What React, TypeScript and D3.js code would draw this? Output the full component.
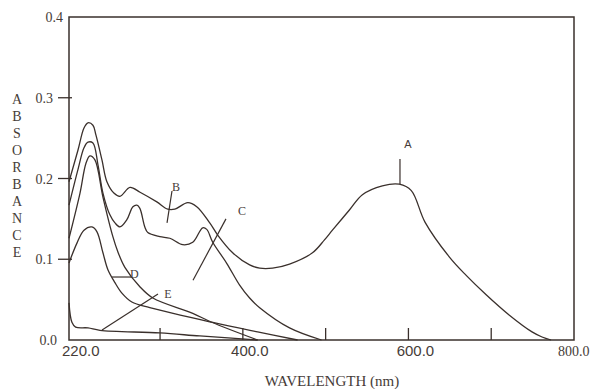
import * as d3 from "d3";

// wavelength (nm) / absorbance pairs
const seriesA: [number, number][] = [
  [190, 0.196], [200.8, 0.235], [208.1, 0.2625], [212.9, 0.269], [218.9, 0.266],
  [222.5, 0.254], [229.8, 0.223], [235.8, 0.196], [244.2, 0.182], [251.5, 0.178],
  [263.7, 0.189], [275.8, 0.183], [296.1, 0.171], [309.3, 0.162], [317.8, 0.162],
  [333.5, 0.17], [344.3, 0.165], [360, 0.145], [369.6, 0.13], [387.7, 0.108],
  [408.2, 0.093], [420.3, 0.089], [435.9, 0.089], [456.4, 0.094], [484.1, 0.108],
  [498.6, 0.124], [508.2, 0.136], [528.7, 0.161], [544.4, 0.18], [568.5, 0.191],
  [589, 0.193], [603.5, 0.185], [620, 0.146], [649.3, 0.103],
  [669.8, 0.08], [693.9, 0.056], [721.6, 0.031], [749.3, 0.01], [761.4, 0.0037],
  [772.3, 0],
];
const seriesB: [number, number][] = [
  [190, 0.167], [200.8, 0.211], [208.1, 0.238], [212.9, 0.245], [218.9, 0.244],
  [225, 0.217], [231, 0.182], [239.4, 0.155], [245.5, 0.145], [251.5, 0.14],
  [259.9, 0.149], [267.2, 0.165], [272, 0.167], [275.6, 0.163], [281.6, 0.14],
  [285.2, 0.133], [299.7, 0.128], [311.8, 0.126], [327.4, 0.118], [339.5, 0.121],
  [351.5, 0.139], [356.4, 0.137], [363.6, 0.121], [380.5, 0.095], [396.1, 0.068],
  [408.2, 0.052], [420.3, 0.04], [456.4, 0.015], [495, 0],
];
const seriesC: [number, number][] = [
  [190, 0.126], [203.3, 0.182], [210.5, 0.219], [215.3, 0.228], [221.3, 0.223],
  [231, 0.177], [243, 0.128], [249.1, 0.109], [257.5, 0.09], [275.6, 0.066],
  [291.3, 0.052], [339.5, 0.033], [362.4, 0.022], [417.8, 0],
];
const seriesD: [number, number][] = [
  [190, 0.0954], [199.6, 0.12], [208.1, 0.136], [217.7, 0.14], [223.8, 0.134],
  [231, 0.108], [237, 0.087], [245.5, 0.071], [253.9, 0.058], [265.9, 0.047],
  [287.6, 0.04], [362.4, 0.022], [417.8, 0.01], [466.1, 0],
];
const seriesE: [number, number][] = [
  [190, 0.046], [193.5, 0.022], [198, 0.016], [213, 0.015], [227.4, 0.012],
  [299.7, 0.0087], [347.9, 0.005], [417.8, 0],
];

const waveTicks = [300, 400, 500, 600, 700];
const waveLabelValues = [190, 400, 600, 800];
const waveLabelTexts = ["220.0", "400.0", "600.0", "800.0"];
const absTicks = [0.1, 0.2, 0.3];
const absLabelValues = [0, 0.1, 0.2, 0.3, 0.4];
const yTitle = "ABSORBANCE".split("");

// leader lines: label, start, end, text anchor point
const leaderLabels = ["A", "B", "C", "D", "E"];
const leaderFrom: [number, number][] = [[589.8, 0.224], [314.4, 0.1845], [379.6, 0.15], [241.9, 0.078], [229.9, 0.0124]];
const leaderTo: [number, number][] = [[589.8, 0.193], [308.4, 0.145], [339.8, 0.074], [264.9, 0.078], [297.5, 0.057]];
const leaderText: [number, number][] = [[599.5, 0.238], [319.2, 0.1845], [399, 0.155], [263.7, 0.077], [309.6, 0.052]];

const W = 594;
const H = 389;
const INK = "#3a302c";
const TEXT = "#463c38";
const SERIF = "'Liberation Serif', 'Times New Roman', serif";
const SANS = "'Liberation Sans', Arial, sans-serif";

export default function App() {
  const x = d3.scaleLinear().domain([190, 800]).range([69, 574]);
  const y = d3.scaleLinear().domain([0, 0.4]).range([340, 17]);

  const line = d3
    .line<[number, number]>()
    .x((d) => x(d[0]))
    .y((d) => y(d[1]))
    .curve(d3.curveCatmullRom.alpha(0.5));

  const curves = [seriesA, seriesB, seriesC, seriesD, seriesE];

  return (
    <div style={{ position: "absolute", left: 0, top: 0 }}>
      <svg width={W} height={H} style={{ display: "block", background: "#fff" }}>
        {/* frame */}
        <rect
          x={x(190)}
          y={y(0.4)}
          width={x(800) - x(190)}
          height={y(0) - y(0.4)}
          fill="none"
          stroke={INK}
          strokeWidth={1.5}
        />

        {/* y ticks */}
        {absTicks.map((t) => (
          <line key={t} x1={x(190) - 11} x2={x(190) + 3} y1={y(t)} y2={y(t)} stroke={INK} strokeWidth={1.3} />
        ))}
        {absLabelValues.map((t) => {
          const right = t === 0 ? 57 : t === 0.4 ? 63 : 53;
          return (
            <text key={t} x={right} y={y(t) + 5} textAnchor="end" fontFamily={SERIF} fontSize={14} fill={TEXT}>
              {t.toFixed(1)}
            </text>
          );
        })}

        {/* x ticks */}
        {waveTicks.map((t) => (
          <line key={t} x1={x(t)} x2={x(t)} y1={y(0) - 12} y2={y(0)} stroke={INK} strokeWidth={1.3} />
        ))}
        {waveLabelValues.map((v, i) => {
          const first = i === 0;
          const last = i === waveLabelValues.length - 1;
          return (
            <text
              key={v}
              x={x(v) + (first ? -7 : last ? -16 : 7)}
              y={356}
              textAnchor={first || last ? "start" : "middle"}
              fontFamily={last ? SERIF : SANS}
              fontSize={last ? 14 : 15}
              fill={TEXT}
            >
              {waveLabelTexts[i]}
            </text>
          );
        })}

        {/* axis titles */}
        <text x={332} y={386} textAnchor="middle" fontFamily={SERIF} fontSize={15} fill={TEXT}>
          WAVELENGTH (nm)
        </text>
        {yTitle.map((c, i) => (
          <text key={i} x={17} y={104 + i * 17} textAnchor="middle" fontFamily={SERIF} fontSize={14} fill={TEXT}>
            {c}
          </text>
        ))}

        {/* spectra */}
        {curves.map((s, i) => (
          <path key={i} d={line(s) ?? ""} fill="none" stroke={INK} strokeWidth={1.3} />
        ))}

        {/* leader lines and labels */}
        {leaderLabels.map((l, i) => (
          <g key={l}>
            <line
              x1={x(leaderFrom[i][0])}
              y1={y(leaderFrom[i][1])}
              x2={x(leaderTo[i][0])}
              y2={y(leaderTo[i][1])}
              stroke={INK}
              strokeWidth={1.2}
            />
            <text
              x={x(leaderText[i][0])}
              y={y(leaderText[i][1])}
              textAnchor={l === "D" ? "start" : "middle"}
              fontFamily={l === "A" ? SANS : SERIF}
              fontSize={l === "A" ? 11 : 12}
              fill={TEXT}
            >
              {l}
            </text>
          </g>
        ))}
      </svg>
    </div>
  );
}
